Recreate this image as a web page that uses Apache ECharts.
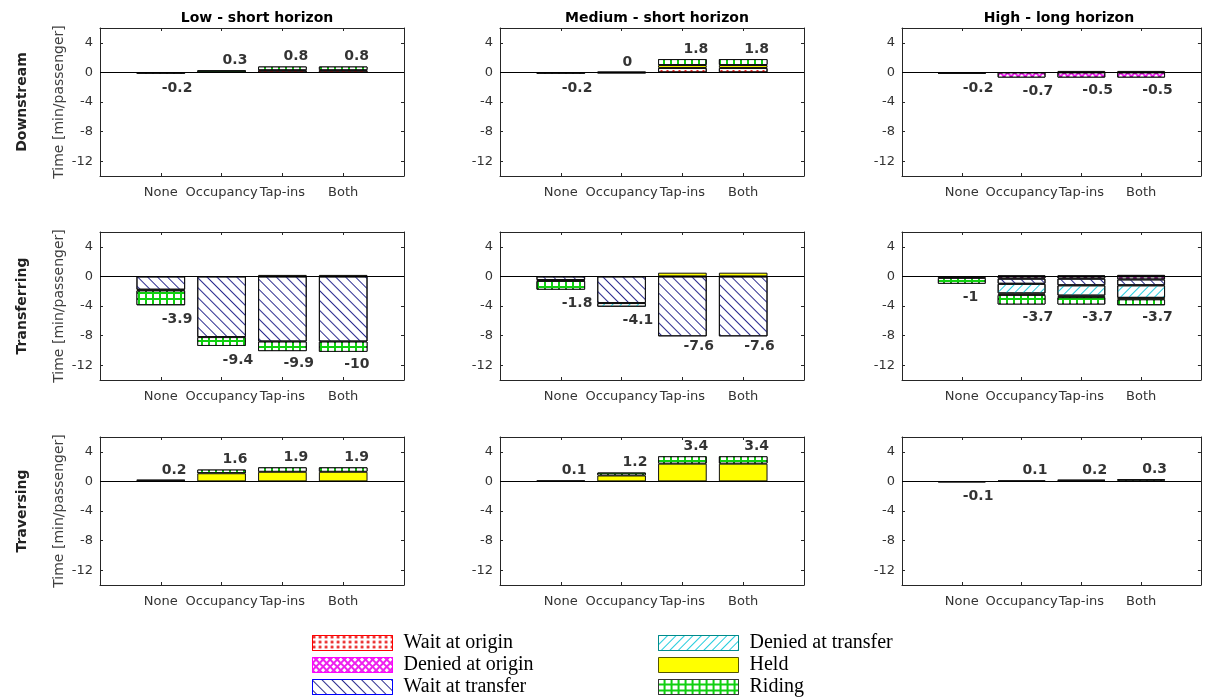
<!DOCTYPE html>
<html>
<head>
<meta charset="utf-8">
<script src="https://cdn.jsdelivr.net/npm/echarts@6/dist/echarts.min.js"></script>
<style>
  html, body { margin: 0; padding: 0; background: #ffffff; }
  #chart { width: 1206px; height: 698px; }
</style>
</head>
<body>
<div id="chart"></div>
<script>
// ---- data -------------------------------------------------------------
const categories = ['None', 'Occupancy', 'Tap-ins', 'Both'];
const scenarios = ['Low - short horizon', 'Medium - short horizon', 'High - long horizon'];
const groups = ['Downstream', 'Transferring', 'Traversing'];
const components = ['Wait at origin', 'Denied at origin', 'Wait at transfer',
                    'Denied at transfer', 'Held', 'Riding'];
const yTicks = [4, 0, -4, -8, -12];

// change in time [min/passenger], indexed [group][scenario][category]
const waitAtOrigin = [
  [[0, 0, 0.3, 0.3], [0, 0, 0.6, 0.6], [0, 0, 0, 0]],
  [[0, 0, 0, 0], [0, 0, 0, 0], [0, 0.1, 0.1, 0.2]],
  [[0, 0, 0, 0], [0, 0, 0, 0], [0, 0, 0, 0]]
];
const deniedAtOrigin = [
  [[0, 0, 0, 0], [0, 0, 0, 0], [0, -0.7, -0.7, -0.7]],
  [[0, 0, 0, 0], [0, 0, 0, 0], [0, -0.3, -0.3, -0.4]],
  [[0, 0, 0, 0], [0, 0, 0, 0], [0, 0, 0, 0]]
];
const waitAtTransfer = [
  [[0, 0, 0, 0], [0, 0, 0, 0], [-0.1, 0, 0, 0]],
  [[-1.8, -8.2, -8.8, -8.8], [-0.5, -3.6, -8.1, -8.1], [-0.2, -0.7, -0.9, -0.8]],
  [[0, 0, 0, 0], [0, 0, 0, 0], [0, 0, 0, 0]]
];
const deniedAtTransfer = [
  [[0, 0, 0, 0], [0, 0, 0, 0], [0, 0, 0, 0]],
  [[0, 0, 0, 0], [0, -0.5, 0, 0], [0, -1.3, -1.4, -1.7]],
  [[0, 0, 0, 0], [0, 0, 0, 0], [0, 0, 0, 0]]
];
const held = [
  [[0, 0, 0, 0], [0, 0.1, 0.4, 0.4], [0, 0, 0.2, 0.2]],
  [[-0.1, 0, 0.2, 0.2], [-0.1, 0, 0.5, 0.5], [0, -0.2, -0.2, -0.2]],
  [[0.1, 1.1, 1.3, 1.3], [0, 0.8, 2.4, 2.4], [0, 0, 0.1, 0.1]]
];
const riding = [
  [[-0.2, 0.3, 0.5, 0.5], [-0.2, -0.1, 0.8, 0.8], [-0.1, 0, 0, 0]],
  [[-2.0, -1.2, -1.3, -1.4], [-1.2, 0, 0, 0], [-0.8, -1.3, -1.0, -0.8]],
  [[0.1, 0.5, 0.6, 0.6], [0.1, 0.4, 1.0, 1.0], [-0.1, 0.1, 0.1, 0.2]]
];

const componentData = [waitAtOrigin, deniedAtOrigin, waitAtTransfer,
                       deniedAtTransfer, held, riding];

// ---- styles -----------------------------------------------------------
const FONT = 'DejaVu Sans';
const AXIS = '#262626';
const componentStyles = [
  { color: '#ffffff', edge: '#ff0000',
    decal: { symbol: 'circle', symbolSize: 1, color: '#e81010',
             dashArrayX: [3, 3], dashArrayY: [3, 2] } },
  { color: '#ee22ee', edge: '#ff00ff',
    decal: { symbol: 'rect', symbolSize: 1, color: '#ffffff',
             dashArrayX: [3, 1.2], dashArrayY: [3, 1.2], rotation: Math.PI / 4 } },
  { color: '#ffffff', edge: '#0000ff',
    decal: { symbol: 'rect', symbolSize: 1, color: '#2b2b8f',
             dashArrayX: [1, 0], dashArrayY: [1, 5.5], rotation: Math.PI / 4 } },
  { color: '#ffffff', edge: '#008b8b',
    decal: { symbol: 'rect', symbolSize: 1, color: '#22ccdd',
             dashArrayX: [1, 0], dashArrayY: [1, 4.5], rotation: -Math.PI / 4 } },
  { color: '#ffff00', edge: '#555500', decal: null },
  { color: '#10d010', edge: '#333333',
    decal: { symbol: 'rect', symbolSize: 1, color: '#ffffff',
             dashArrayX: [4.5, 1.5], dashArrayY: [3.5, 1.5] } }
];

// panel layout
const colLeft = [100, 500, 902];
const rowTop = [28, 232, 437];
const PW = 304, PH = 148;

const axisCats = ['', ...categories, ' '];
const tickOnCategory = (i) => i >= 1 && i <= categories.length;
const fmt = (v) => { const r = Math.round(v * 10) / 10; return String(r === 0 ? 0 : r); };

const grid = [], xAxis = [], yAxis = [], series = [], title = [], graphic = [];

groups.forEach((groupName, r) => {
  scenarios.forEach((scen, c) => {
    const g = r * scenarios.length + c;
    grid.push({ left: colLeft[c], top: rowTop[r], width: PW, height: PH });

    const xBase = {
      type: 'category', data: axisCats, gridIndex: g, boundaryGap: false,
      axisLine: { show: true, onZero: false, lineStyle: { color: AXIS, width: 1 } },
      axisTick: { show: true, inside: true, length: 3, interval: tickOnCategory,
                  lineStyle: { color: AXIS } },
      splitLine: { show: false }
    };
    xAxis.push(Object.assign({}, xBase, {
      position: 'bottom',
      axisLabel: { interval: 0, margin: 10, color: '#333333', fontSize: 13, fontFamily: FONT }
    }));
    xAxis.push(Object.assign({}, xBase, { position: 'top', axisLabel: { show: false } }));

    const yBase = {
      type: 'value', gridIndex: g, min: -14, max: 6,
      axisLine: { show: true, lineStyle: { color: AXIS, width: 1 } },
      axisTick: { show: true, inside: true, length: 3, customValues: yTicks,
                  lineStyle: { color: AXIS } },
      splitLine: { show: false }
    };
    yAxis.push(Object.assign({}, yBase, {
      position: 'left',
      axisLabel: { customValues: yTicks, margin: 7, color: '#333333', fontSize: 13, fontFamily: FONT },
      name: c === 0 ? 'Time [min/passenger]' : '',
      nameLocation: 'middle', nameGap: 34,
      nameTextStyle: { color: '#404040', fontSize: 14, fontFamily: FONT }
    }));
    yAxis.push(Object.assign({}, yBase, { position: 'right', axisLabel: { show: false } }));

    // stacked components
    componentData.forEach((arr, s) => {
      const st = componentStyles[s];
      const itemStyle = { color: st.color, borderColor: '#111111', borderWidth: 1 };
      if (st.decal) itemStyle.decal = st.decal;
      series.push({
        type: 'bar', name: components[s], stack: 'panel' + g,
        xAxisIndex: 2 * g, yAxisIndex: 2 * g, barWidth: '80%',
        itemStyle: itemStyle, silent: true,
        data: [null, ...arr[r][c].map(v => (v === 0 ? null : v)), null]
      });
    });

    // net totals, written beside each bar
    const totals = categories.map((_, k) => componentData.reduce((acc, arr) => acc + arr[r][c][k], 0));
    series.push({
      type: 'scatter', name: 'net' + g, xAxisIndex: 2 * g, yAxisIndex: 2 * g,
      symbolSize: 1, itemStyle: { color: 'rgba(0,0,0,0)' }, silent: true, z: 5,
      data: totals.map((t, k) => ({
        value: [k + 1, Math.round(t * 10) / 10],
        label: { offset: [1, t >= 0 ? -10 : 14] }
      })),
      label: {
        show: true, position: 'inside', align: 'left', verticalAlign: 'middle',
        formatter: (p) => fmt(p.value[1]),
        color: '#000000', fontWeight: 'bold', fontSize: 14, fontFamily: FONT
      },
      markLine: {
        silent: true, symbol: ['none', 'none'], label: { show: false },
        lineStyle: { color: '#000000', width: 1, type: 'solid' },
        data: [{ yAxis: 0 }]
      }
    });

    if (r === 0) {
      title.push({
        text: scen, left: colLeft[c] + PW / 2, top: 6, textAlign: 'center',
        textStyle: { fontSize: 14, fontWeight: 'bold', fontFamily: FONT, color: '#000000' }
      });
    }
  });

  graphic.push({
    type: 'text', x: 22, y: rowTop[r] + PH / 2, rotation: Math.PI / 2,
    style: { text: groupName, font: 'bold 14px "DejaVu Sans"', fill: '#222222',
             textAlign: 'center', textVerticalAlign: 'middle' }
  });
});

const legendBase = {
  orient: 'vertical', top: 633, icon: 'rect', itemWidth: 80, itemHeight: 15,
  itemGap: 2, padding: 0, selectedMode: false,
  textStyle: { fontFamily: 'Liberation Serif', fontSize: 20, lineHeight: 20,
               color: '#000000', padding: [0, 0, 0, 6] }
};
const legendItems = (from, to) => components.slice(from, to).map((n, i) => ({
  name: n, itemStyle: { borderColor: componentStyles[from + i].edge, borderWidth: 1 }
}));

const option = {
  animation: false,
  backgroundColor: '#ffffff',
  title: title,
  grid: grid,
  xAxis: xAxis,
  yAxis: yAxis,
  series: series,
  graphic: graphic,
  legend: [
    Object.assign({}, legendBase, { left: 312, data: legendItems(0, 3) }),
    Object.assign({}, legendBase, { left: 658, data: legendItems(3, 6) })
  ]
};

const chart = echarts.init(document.getElementById('chart'), null, { renderer: 'canvas' });
chart.setOption(option);
</script>
</body>
</html>
